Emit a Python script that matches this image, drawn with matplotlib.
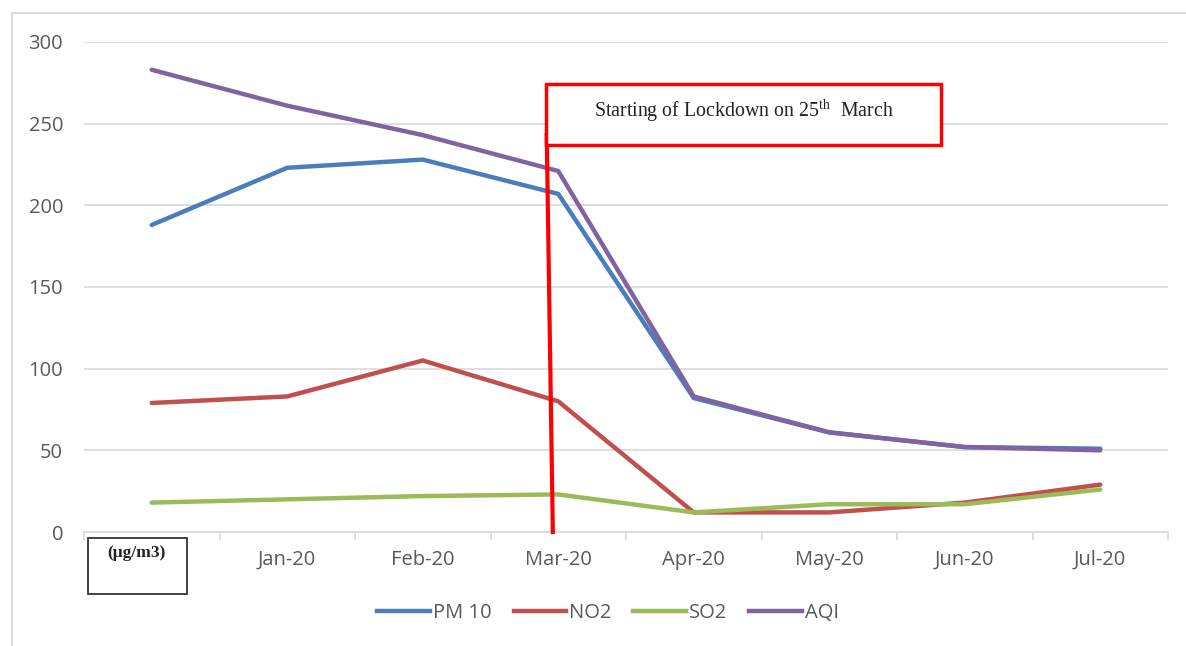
import matplotlib
matplotlib.use("Agg")
import matplotlib.pyplot as plt
from matplotlib.lines import Line2D
from matplotlib.patches import Rectangle

# datos (ug/m3)
meses = ["", "Jan-20", "Feb-20", "Mar-20", "Apr-20", "May-20", "Jun-20", "Jul-20"]
pm10 = [188, 223, 228, 207, 82, 61, 52, 51]
no2 = [79, 83, 105, 80, 12, 12, 18, 29]
so2 = [18, 20, 22, 23, 12, 17, 17, 26]
aqi = [283, 261, 243, 221, 83, 61, 52, 50]

series = [
    ("PM 10", pm10, "#4a7ebb"),
    ("NO2", no2, "#c0504d"),
    ("SO2", so2, "#9bbb59"),
    ("AQI", aqi, "#8064a2"),
]

plt.rcParams["font.family"] = ["Open Sans", "DejaVu Sans"]
plt.rcParams["mathtext.fontset"] = "stix"

fig = plt.figure(figsize=(11.86, 6.46), dpi=100)
ax = fig.add_axes([84 / 1186, 1 - 532 / 646, (1168 - 84) / 1186, (532 - 42) / 646])

x = list(range(len(meses)))
for nombre, valores, color in series:
    ax.plot(x, valores, color=color, lw=3.2, label=nombre, solid_capstyle="round", zorder=3)

ax.set_xlim(-0.5, len(meses) - 0.5)
ax.set_ylim(0, 300)
ax.set_yticks(range(0, 301, 50))
ax.set_xticks(x)
ax.set_xticklabels(meses)
ax.set_xticks([i - 0.5 for i in range(len(meses) + 1)], minor=True)
ax.tick_params(axis="x", which="major", length=0, pad=13, labelsize=14.5, labelcolor="#595959")
ax.tick_params(axis="x", which="minor", length=6, color="#d9d9d9", width=1.2)
ax.tick_params(axis="y", length=0, pad=15, labelsize=14.5, labelcolor="#595959")
ax.grid(axis="y", color="#d9d9d9", lw=1.2, zorder=0)
for lado in ["left", "right", "top"]:
    ax.spines[lado].set_visible(False)
ax.spines["bottom"].set_color("#d9d9d9")
ax.spines["bottom"].set_linewidth(1.2)

# linea del confinamiento
ax.plot([2.915, 2.96], [243, 0], color="#ff0000", lw=3, zorder=4, clip_on=False)

# caja de texto
caja = Rectangle((546 / 1186, 1 - 145 / 646), (941 - 546) / 1186, (145 - 84) / 646,
                 transform=fig.transFigure, facecolor="white", edgecolor="#ff0000", lw=2.5, zorder=5)
fig.patches.append(caja)
fig.text(744 / 1186, 1 - 111 / 646, r"Starting of Lockdown on 25$^{\mathrm{th}}$  March",
         ha="center", va="center", fontsize=14.3, family="Liberation Serif", color="#222222", zorder=6)

# caja de unidades
unidades = Rectangle((88 / 1186, 1 - 594 / 646), (187 - 88) / 1186, (594 - 538) / 646,
                     transform=fig.transFigure, facecolor="white", edgecolor="#333333", lw=1.3, zorder=5)
fig.patches.append(unidades)
fig.text(136 / 1186, 1 - 553 / 646, "(μg/m3)", ha="center", va="center", fontsize=12.5,
         family="Liberation Serif", fontweight="bold", color="#222222", zorder=6)

# borde exterior
fig.add_artist(Line2D([12 / 1186, 12 / 1186], [0, 1 - 13 / 646], transform=fig.transFigure, color="#dddddd", lw=1.5))
fig.add_artist(Line2D([12 / 1186, 1], [1 - 13 / 646, 1 - 13 / 646], transform=fig.transFigure, color="#dddddd", lw=1.5))

handles = [Line2D([0], [0], color=c, lw=3.2) for _, _, c in series]
fig.legend(handles, [n for n, _, _ in series], loc="center", bbox_to_anchor=(608 / 1186, 1 - 613 / 646),
           ncol=4, frameon=False, fontsize=14.5, labelcolor="#595959", handlelength=2.6,
           handletextpad=0.15, columnspacing=1.1)

fig.savefig("out.png", dpi=100)
